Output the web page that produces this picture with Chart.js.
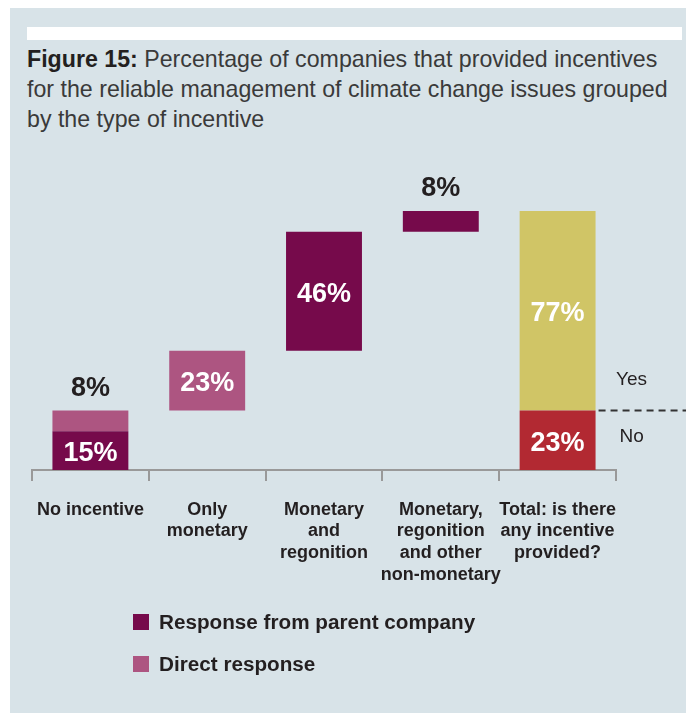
<!DOCTYPE html>
<html>
<head>
<meta charset="utf-8">
<script src="https://cdn.jsdelivr.net/npm/chart.js@4.4.1/dist/chart.umd.min.js"></script>
<style>
  body { margin: 0; width: 686px; height: 713px; background: #fff; position: relative; overflow: hidden; font-family: "Liberation Sans", Arial, sans-serif; }
  #panel { position: absolute; left: 10px; top: 8px; right: 0; bottom: 0; background: #d8e3e8; }
  #rule { position: absolute; left: 27px; top: 27px; width: 655px; height: 13px; background: #fff; }
  #title { position: absolute; left: 27px; top: 44px; font-size: 23.2px; line-height: 30px; color: #3a3a3a; white-space: nowrap; }
  #title b { color: #231f20; }
  #chart { position: absolute; left: 0; top: 0; }
  #legend { position: absolute; left: 133px; top: 601px; }
  .item { height: 42px; display: flex; align-items: center; font-size: 20.7px; font-weight: bold; color: #231f20; }
  .swatch { width: 16px; height: 16px; margin-right: 10px; }
</style>
</head>
<body>
<div id="panel"></div>
<div id="rule"></div>
<div id="title"><b>Figure 15:</b> Percentage of companies that provided incentives<br>for the reliable management of climate change issues grouped<br>by the type of incentive</div>
<canvas id="chart" width="686" height="713"></canvas>
<div id="legend"></div>
<script>
const categories = [
    ["No incentive"],
    ["Only", "monetary"],
    ["Monetary", "and", "regonition"],
    ["Monetary,", "regonition", "and other", "non-monetary"],
    ["Total: is there", "any incentive", "provided?"]
];
// shares in %, first four columns only
const parentCompany = [15, 0, 46, 8];
const directResponse = [8, 23, 0, 0];
const totalNo = 23;
const totalYes = 77;

const FONT = "'Liberation Sans', Arial, sans-serif";
const DARK = '#231f20';

// running total so each column starts where the previous one ended
var parentBars = [], directBars = [], noBars = [], yesBars = [];
var base = 0;
for (var i = 0; i < parentCompany.length; i++) {
    parentBars.push(parentCompany[i] ? [base, base + parentCompany[i]] : null);
    base += parentCompany[i];
    directBars.push(directResponse[i] ? [base, base + directResponse[i]] : null);
    base += directResponse[i];
    noBars.push(null);
    yesBars.push(null);
}
parentBars.push(null);
directBars.push(null);
noBars.push([0, totalNo]);
yesBars.push([totalNo, totalNo + totalYes]);

var barLabels = {
    id: 'barLabels',
    afterDatasetsDraw: function(chart) {
        var ctx = chart.ctx;
        ctx.save();
        ctx.textAlign = 'center';
        ctx.textBaseline = 'middle';
        ctx.font = 'bold 27px ' + FONT;
        chart.data.datasets.forEach(function(ds, di) {
            var meta = chart.getDatasetMeta(di);
            ds.data.forEach(function(v, j) {
                if (!v) return;
                var bar = meta.data[j];
                var txt = (v[1] - v[0]) + '%';
                var h = bar.base - bar.y;
                if (h >= 30) {
                    ctx.fillStyle = '#fff';
                    ctx.fillText(txt, bar.x, (bar.y + bar.base) / 2 + 3);
                } else {
                    ctx.fillStyle = DARK;
                    ctx.fillText(txt, bar.x, bar.y - 22);
                }
            });
        });

        // Yes / No split marker on the total column
        var last = chart.getDatasetMeta(3).data[4];
        var right = last.x + last.width / 2;
        var y = chart.scales.y.getPixelForValue(totalNo);
        ctx.strokeStyle = '#333';
        ctx.lineWidth = 2;
        ctx.setLineDash([7, 5]);
        ctx.beginPath();
        ctx.moveTo(right + 3, y);
        ctx.lineTo(chart.width, y);
        ctx.stroke();
        ctx.font = '19px ' + FONT;
        ctx.fillStyle = DARK;
        ctx.fillText('Yes', right + 36, y - 31);
        ctx.fillText('No', right + 36, y + 26);
        ctx.restore();
    }
};

var chart = new Chart(document.getElementById('chart').getContext('2d'), {
    type: 'bar',
    data: {
        labels: categories,
        datasets: [
            { label: 'Response from parent company', data: parentBars, backgroundColor: '#760a4b' },
            { label: 'Direct response', data: directBars, backgroundColor: '#ad5581' },
            { label: 'No', data: noBars, backgroundColor: '#b22932' },
            { label: 'Yes', data: yesBars, backgroundColor: '#d0c566' }
        ]
    },
    options: {
        responsive: false,
        animation: false,
        layout: { padding: { left: 32, right: 70, top: 211, bottom: 123 } },
        datasets: { bar: { grouped: false, barPercentage: 0.65, categoryPercentage: 1 } },
        plugins: { legend: { display: false }, tooltip: { enabled: false } },
        scales: {
            x: {
                afterFit: function(s) { s.height = 120; },
                grid: { offset: true, drawOnChartArea: false, tickLength: 11, color: '#999', lineWidth: 2 },
                border: { color: '#999', width: 2 },
                ticks: {
                    color: DARK, padding: 18, maxRotation: 0, autoSkip: false,
                    font: { family: FONT, size: 18, weight: 'bold', lineHeight: 1.2 }
                }
            },
            y: { display: false, min: 0, max: 100 }
        }
    },
    plugins: [barLabels]
});

// legend for the two response types
var legend = document.getElementById('legend');
chart.data.datasets.slice(0, 2).forEach(function(ds) {
    var row = document.createElement('div');
    row.className = 'item';
    var sw = document.createElement('span');
    sw.className = 'swatch';
    sw.style.background = ds.backgroundColor;
    row.appendChild(sw);
    row.appendChild(document.createTextNode(ds.label));
    legend.appendChild(row);
});
</script>
</body>
</html>
